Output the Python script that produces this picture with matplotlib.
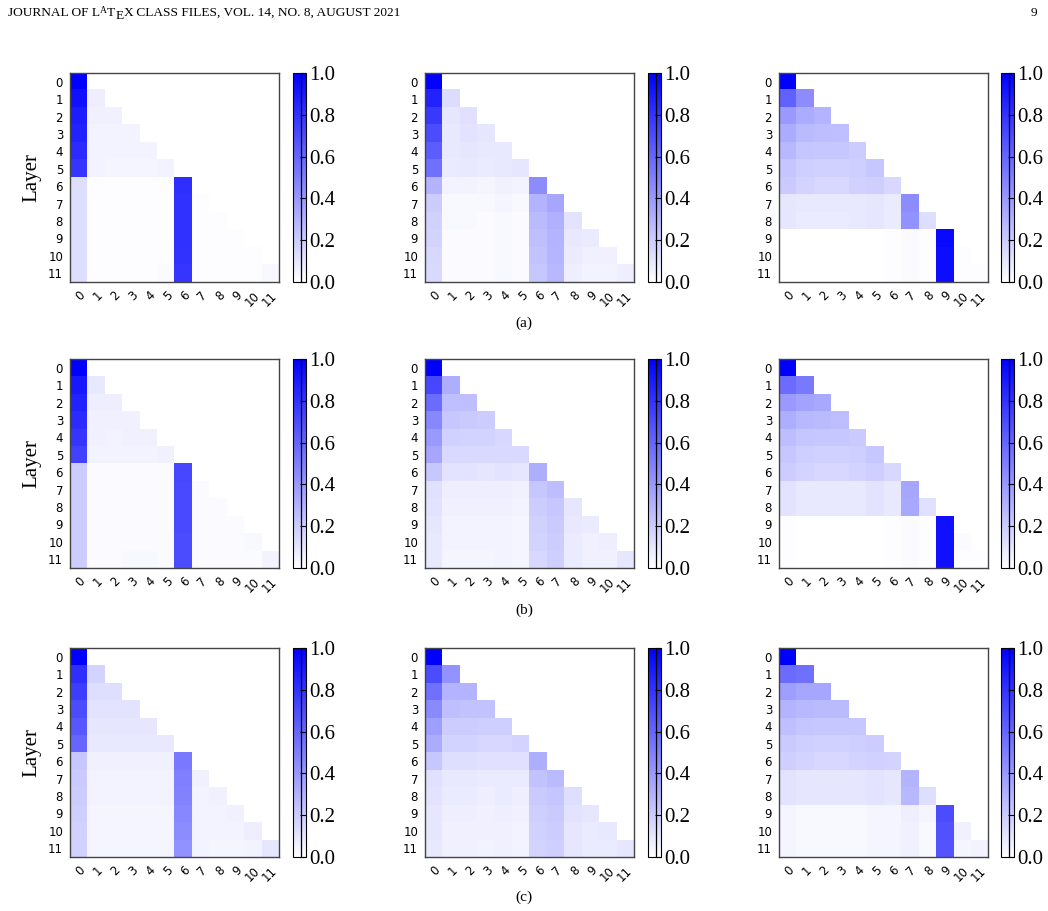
import numpy as np
import matplotlib
matplotlib.use("Agg")
import matplotlib.pyplot as plt
from matplotlib.colors import LinearSegmentedColormap

# lower-triangular attention maps, one list of rows per panel (row i has i+1 values)
layers = [str(i) for i in range(12)]
a_left = [
    [1.00],
    [0.93, 0.07],
    [0.89, 0.06, 0.06],
    [0.86, 0.05, 0.05, 0.05],
    [0.83, 0.05, 0.05, 0.05, 0.05],
    [0.79, 0.05, 0.04, 0.04, 0.04, 0.05],
    [0.13, 0.01, 0.01, 0.01, 0.01, 0.01, 0.82],
    [0.13, 0.01, 0.01, 0.01, 0.01, 0.01, 0.81, 0.01],
    [0.13, 0.01, 0.01, 0.01, 0.01, 0.01, 0.81, 0.01, 0.01],
    [0.13, 0.01, 0.01, 0.01, 0.01, 0.01, 0.81, 0.01, 0.01, 0.01],
    [0.13, 0.01, 0.01, 0.01, 0.01, 0.01, 0.80, 0.01, 0.01, 0.01, 0.01],
    [0.13, 0.01, 0.01, 0.01, 0.01, 0.02, 0.79, 0.01, 0.01, 0.01, 0.01, 0.03],
]
a_mid = [
    [1.00],
    [0.86, 0.14],
    [0.78, 0.10, 0.12],
    [0.70, 0.09, 0.11, 0.10],
    [0.64, 0.09, 0.10, 0.09, 0.09],
    [0.56, 0.08, 0.09, 0.08, 0.09, 0.10],
    [0.30, 0.05, 0.05, 0.04, 0.06, 0.05, 0.45],
    [0.20, 0.03, 0.03, 0.03, 0.04, 0.03, 0.30, 0.35],
    [0.18, 0.03, 0.03, 0.02, 0.03, 0.02, 0.27, 0.31, 0.11],
    [0.17, 0.02, 0.02, 0.02, 0.03, 0.02, 0.25, 0.30, 0.09, 0.08],
    [0.16, 0.02, 0.02, 0.02, 0.03, 0.02, 0.24, 0.29, 0.08, 0.06, 0.06],
    [0.15, 0.02, 0.02, 0.02, 0.03, 0.02, 0.22, 0.28, 0.07, 0.05, 0.05, 0.07],
]
a_right = [
    [1.00],
    [0.62, 0.45],
    [0.40, 0.33, 0.30],
    [0.33, 0.27, 0.26, 0.25],
    [0.28, 0.23, 0.22, 0.22, 0.20],
    [0.23, 0.19, 0.18, 0.18, 0.19, 0.22],
    [0.21, 0.17, 0.16, 0.16, 0.18, 0.19, 0.16],
    [0.10, 0.09, 0.09, 0.09, 0.09, 0.10, 0.08, 0.45],
    [0.10, 0.08, 0.08, 0.08, 0.09, 0.10, 0.08, 0.43, 0.13],
    [0.00, 0.00, 0.00, 0.00, 0.00, 0.00, 0.01, 0.02, 0.01, 0.96],
    [0.00, 0.00, 0.00, 0.00, 0.00, 0.00, 0.01, 0.02, 0.01, 0.95, 0.01],
    [0.00, 0.00, 0.00, 0.00, 0.00, 0.00, 0.01, 0.02, 0.01, 0.95, 0.01, 0.01],
]
b_left = [
    [1.00],
    [0.90, 0.09],
    [0.86, 0.07, 0.07],
    [0.83, 0.06, 0.06, 0.06],
    [0.79, 0.06, 0.05, 0.06, 0.06],
    [0.74, 0.05, 0.05, 0.05, 0.05, 0.06],
    [0.20, 0.02, 0.02, 0.02, 0.02, 0.02, 0.72],
    [0.20, 0.02, 0.02, 0.02, 0.02, 0.02, 0.71, 0.02],
    [0.20, 0.02, 0.02, 0.02, 0.02, 0.02, 0.71, 0.02, 0.02],
    [0.20, 0.02, 0.02, 0.02, 0.02, 0.02, 0.71, 0.02, 0.02, 0.02],
    [0.20, 0.02, 0.02, 0.02, 0.02, 0.02, 0.70, 0.02, 0.02, 0.02, 0.03],
    [0.20, 0.02, 0.02, 0.03, 0.03, 0.02, 0.70, 0.02, 0.02, 0.02, 0.02, 0.05],
]
b_mid = [
    [1.00],
    [0.72, 0.32],
    [0.58, 0.25, 0.25],
    [0.47, 0.22, 0.21, 0.20],
    [0.40, 0.18, 0.17, 0.17, 0.16],
    [0.35, 0.15, 0.15, 0.15, 0.15, 0.15],
    [0.22, 0.11, 0.11, 0.10, 0.11, 0.10, 0.32],
    [0.12, 0.07, 0.07, 0.07, 0.07, 0.06, 0.22, 0.26],
    [0.11, 0.06, 0.06, 0.06, 0.06, 0.05, 0.20, 0.22, 0.10],
    [0.10, 0.05, 0.05, 0.05, 0.05, 0.04, 0.18, 0.21, 0.09, 0.08],
    [0.09, 0.05, 0.05, 0.05, 0.05, 0.04, 0.17, 0.20, 0.08, 0.06, 0.07],
    [0.09, 0.04, 0.04, 0.04, 0.05, 0.04, 0.16, 0.19, 0.08, 0.06, 0.06, 0.10],
]
b_right = [
    [1.00],
    [0.58, 0.52],
    [0.40, 0.36, 0.34],
    [0.32, 0.28, 0.27, 0.26],
    [0.26, 0.23, 0.22, 0.22, 0.21],
    [0.22, 0.19, 0.18, 0.18, 0.19, 0.22],
    [0.20, 0.17, 0.16, 0.16, 0.17, 0.19, 0.16],
    [0.11, 0.09, 0.09, 0.09, 0.09, 0.11, 0.09, 0.35],
    [0.11, 0.09, 0.09, 0.09, 0.09, 0.11, 0.09, 0.34, 0.12],
    [0.01, 0.00, 0.00, 0.00, 0.00, 0.00, 0.01, 0.02, 0.01, 0.93],
    [0.01, 0.00, 0.00, 0.00, 0.00, 0.00, 0.01, 0.02, 0.01, 0.93, 0.02],
    [0.01, 0.00, 0.00, 0.00, 0.00, 0.00, 0.01, 0.02, 0.01, 0.93, 0.01, 0.01],
]
c_left = [
    [1.00],
    [0.82, 0.17],
    [0.76, 0.13, 0.13],
    [0.70, 0.11, 0.11, 0.11],
    [0.66, 0.10, 0.10, 0.10, 0.10],
    [0.60, 0.09, 0.09, 0.09, 0.09, 0.09],
    [0.22, 0.06, 0.06, 0.06, 0.06, 0.06, 0.52],
    [0.21, 0.05, 0.05, 0.05, 0.05, 0.05, 0.50, 0.06],
    [0.20, 0.05, 0.05, 0.05, 0.05, 0.05, 0.49, 0.05, 0.06],
    [0.19, 0.04, 0.04, 0.04, 0.04, 0.04, 0.47, 0.05, 0.05, 0.06],
    [0.18, 0.04, 0.04, 0.04, 0.04, 0.04, 0.45, 0.05, 0.05, 0.05, 0.07],
    [0.18, 0.04, 0.04, 0.04, 0.04, 0.04, 0.43, 0.05, 0.04, 0.04, 0.05, 0.10],
]
c_mid = [
    [1.00],
    [0.70, 0.42],
    [0.56, 0.30, 0.30],
    [0.46, 0.25, 0.24, 0.24],
    [0.38, 0.20, 0.20, 0.19, 0.19],
    [0.33, 0.17, 0.17, 0.16, 0.16, 0.17],
    [0.22, 0.13, 0.13, 0.12, 0.12, 0.12, 0.32],
    [0.12, 0.09, 0.09, 0.08, 0.08, 0.08, 0.24, 0.27],
    [0.11, 0.08, 0.08, 0.07, 0.08, 0.07, 0.21, 0.23, 0.13],
    [0.10, 0.07, 0.07, 0.06, 0.07, 0.06, 0.19, 0.21, 0.11, 0.10],
    [0.10, 0.06, 0.06, 0.06, 0.06, 0.05, 0.18, 0.20, 0.10, 0.08, 0.09],
    [0.09, 0.06, 0.06, 0.05, 0.06, 0.05, 0.17, 0.19, 0.10, 0.08, 0.08, 0.10],
]
c_right = [
    [1.00],
    [0.58, 0.56],
    [0.38, 0.35, 0.35],
    [0.30, 0.28, 0.27, 0.27],
    [0.25, 0.23, 0.22, 0.22, 0.22],
    [0.21, 0.19, 0.18, 0.18, 0.19, 0.20],
    [0.19, 0.17, 0.16, 0.16, 0.17, 0.18, 0.17],
    [0.11, 0.10, 0.10, 0.10, 0.10, 0.11, 0.10, 0.30],
    [0.11, 0.10, 0.10, 0.10, 0.10, 0.11, 0.10, 0.28, 0.13],
    [0.04, 0.03, 0.03, 0.03, 0.03, 0.04, 0.04, 0.07, 0.04, 0.70],
    [0.04, 0.03, 0.03, 0.03, 0.03, 0.04, 0.04, 0.06, 0.03, 0.68, 0.06],
    [0.04, 0.03, 0.03, 0.03, 0.03, 0.04, 0.04, 0.06, 0.03, 0.67, 0.04, 0.05],
]
panels = [[a_left, a_mid, a_right],
          [b_left, b_mid, b_right],
          [c_left, c_mid, c_right]]
captions = ["(a)", "(b)", "(c)"]

serif = ["Liberation Serif", "DejaVu Serif"]

cmap = LinearSegmentedColormap.from_list("wb", ["white", "blue"])
cmap.set_bad("white")

W, H = 1048, 911
fig = plt.figure(figsize=(W / 100, H / 100), dpi=100)

def box(x, y, w, h):
    # pixel box (top-left origin) -> figure fraction
    return [x / W, (H - y - h) / H, w / W, h / H]

col_x = [70, 425, 779]
cbar_x = [293, 648, 1001]
row_y = [73, 359, 648]
size = 209

for r in range(3):
    for c in range(3):
        rows = panels[r][c]
        mat = np.full((12, 12), np.nan)
        for i, vals in enumerate(rows):
            mat[i, :len(vals)] = vals
        ax = fig.add_axes(box(col_x[c], row_y[r], size, size))
        im = ax.imshow(np.ma.masked_invalid(mat), cmap=cmap, vmin=0, vmax=1,
                       aspect="auto", interpolation="nearest")
        ax.set_xticks(range(12))
        ax.set_yticks(range(12))
        ax.set_xticklabels(layers, rotation=45, ha="right", rotation_mode="anchor",
                           fontsize=8.5)
        ax.set_yticklabels(layers, fontsize=8.5)
        ax.tick_params(length=0, pad=5)
        for s in ax.spines.values():
            s.set_color("#444444")
            s.set_linewidth(1)
        if c == 0:
            ax.set_ylabel("Layer", family=serif, fontsize=15, labelpad=5)

        cax = fig.add_axes(box(cbar_x[c], row_y[r], 13, size))
        cb = fig.colorbar(im, cax=cax)
        cb.set_ticks([0, 0.2, 0.4, 0.6, 0.8, 1.0])
        cb.set_ticklabels(["0.0", "0.2", "0.4", "0.6", "0.8", "1.0"])
        cax.tick_params(direction="in", length=4, width=0.8, pad=2, labelsize=15)
        for lab in cax.get_yticklabels():
            lab.set_family(serif)
        cb.outline.set_linewidth(0.8)
        cax.axvline(0.65, color="black", lw=0.9)

    fig.text(524 / W, 1 - (323 + 287 * r) / H, captions[r], family=serif,
             fontsize=11, ha="center", va="center")

# running header with a hand-built LaTeX logo (pieces kept side by side)
renderer = fig.canvas.get_renderer()
hs = 9.6
base_y = H - 16
x = 8.0
pieces = [("JOURNAL OF L", hs, 0.0, 0.0),
          ("A", hs * 0.72, 0.22, 0.0),
          ("T", hs, 0.0, 0.01),
          ("E", hs, -0.22, 0.01),
          ("X", hs, 0.0, 0.01),
          (" CLASS FILES, VOL. 14, NO. 8, AUGUST 2021", hs, 0.0, 0.0)]
em = hs * 100 / 72
for txt, fs, dy, kern in pieces:
    x += kern * em
    t = fig.text(x / W, (base_y + dy * em) / H, txt, family=serif, fontsize=fs,
                 ha="left", va="baseline")
    x += t.get_window_extent(renderer).width
fig.text(1034 / W, base_y / H, "9", family=serif, fontsize=hs, ha="center", va="baseline")

fig.savefig("out.png", dpi=100)
